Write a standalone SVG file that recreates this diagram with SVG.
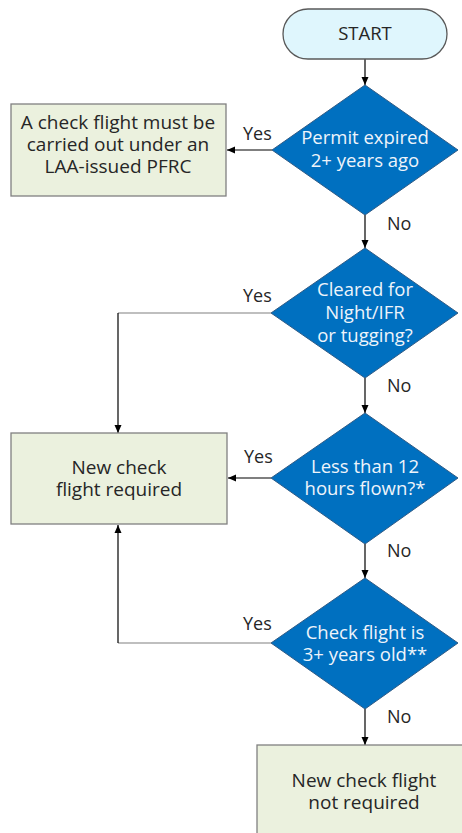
<svg xmlns="http://www.w3.org/2000/svg" width="462" height="833" viewBox="0 0 462 833">
<defs>
<marker id="ah" markerWidth="10" markerHeight="10" refX="9" refY="5" orient="auto" markerUnits="userSpaceOnUse">
<path d="M1,1.5 L9,5 L1,8.5 Z" fill="#000"/>
</marker>
<style>
.t{font-family:"Open Sans","Noto Sans",sans-serif;font-size:18.5px;text-anchor:middle}
.tb{font-size:19px}
.dk{fill:#262626}
.wt{fill:#eef4fb}
.lbl{font-family:"Open Sans","Noto Sans",sans-serif;font-size:18px;fill:#262626}
.box{fill:#ebf1de;stroke:#808080;stroke-width:1.3}
.dia{fill:#0070c0;stroke:#2f5b86;stroke-width:1}
.lnm{fill:none;stroke:#000;stroke-width:1.2;marker-end:url(#ah)}
.lng{fill:none;stroke:#808080;stroke-width:1.2}
</style>
</defs>
<g id="connectors">
<path class="lnm" d="M365,59 V85"/>
<path class="lnm" d="M272,150 H227"/>
<path class="lnm" d="M365,215 V248"/>
<path class="lng" d="M271,313 H118"/>
<path class="lnm" d="M118,313 V433"/>
<path class="lnm" d="M365,378 V413"/>
<path class="lnm" d="M271,478 H228"/>
<path class="lnm" d="M365,544 V578"/>
<path class="lng" d="M271,643 H118"/>
<path class="lnm" d="M118,643 V525"/>
<path class="lnm" d="M365,709 V745"/>
<text class="lbl" x="243" y="140">Yes</text>
<text class="lbl" x="387" y="230">No</text>
<text class="lbl" x="243" y="302">Yes</text>
<text class="lbl" x="387" y="392">No</text>
<text class="lbl" x="244" y="463">Yes</text>
<text class="lbl" x="387" y="557">No</text>
<text class="lbl" x="243" y="630">Yes</text>
<text class="lbl" x="387" y="723">No</text>
</g>
<g id="start">
<rect x="283" y="9" width="164" height="50" rx="25" fill="#dff6fd" stroke="#595959" stroke-width="1.3"/>
<text class="t dk" x="365" y="40">START</text>
</g>
<g id="d1">
<path class="dia" d="M365,85 L458,150 L365,215 L272,150 Z"/>
<text class="t wt" x="365" y="144">Permit expired</text>
<text class="t wt" x="365" y="167">2+ years ago</text>
</g>
<g id="b1">
<rect class="box" x="11" y="104" width="215" height="92"/>
<text class="t tb dk" x="118" y="129">A check flight must be</text>
<text class="t tb dk" x="118" y="151">carried out under an</text>
<text class="t tb dk" x="118" y="173">LAA-issued PFRC</text>
</g>
<g id="d2">
<path class="dia" d="M365,248 L458,313 L365,378 L271,313 Z"/>
<text class="t wt" x="365" y="296">Cleared for</text>
<text class="t wt" x="365" y="319">Night/IFR</text>
<text class="t wt" x="365" y="342">or tugging?</text>
</g>
<g id="d3">
<path class="dia" d="M365,413 L458,478 L365,544 L271,478 Z"/>
<text class="t wt" x="365" y="473">Less than 12</text>
<text class="t wt" x="365" y="495">hours flown?*</text>
</g>
<g id="b2">
<rect class="box" x="11" y="433" width="216" height="91"/>
<text class="t tb dk" x="119" y="474">New check</text>
<text class="t tb dk" x="119" y="496">flight required</text>
</g>
<g id="d4">
<path class="dia" d="M365,578 L458,643 L365,709 L271,643 Z"/>
<text class="t wt" x="365" y="639">Check flight is</text>
<text class="t wt" x="365" y="661">3+ years old**</text>
</g>
<g id="b3">
<rect class="box" x="257" y="745" width="216" height="92"/>
<text class="t tb dk" x="364" y="787">New check flight</text>
<text class="t tb dk" x="364" y="809">not required</text>
</g>
</svg>
